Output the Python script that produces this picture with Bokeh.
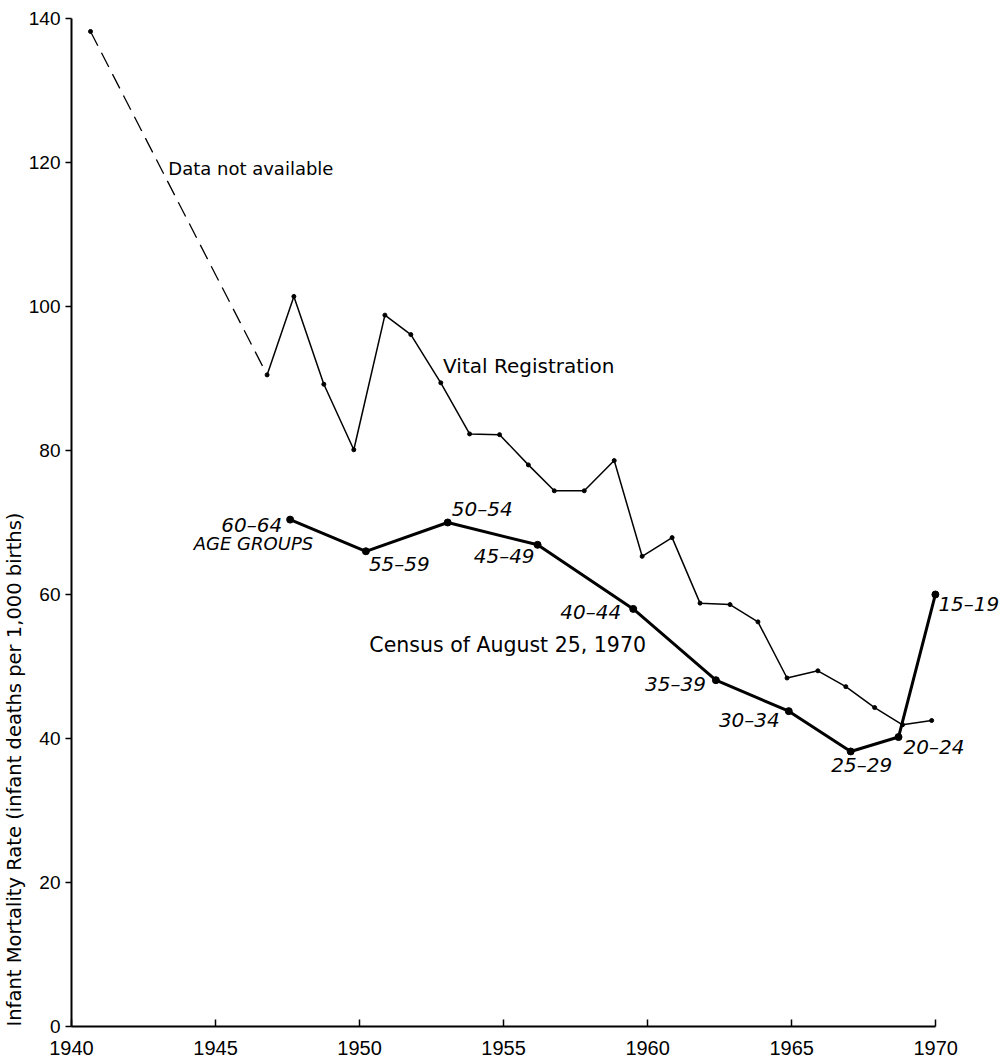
import math
from bokeh.plotting import figure
from bokeh.models import Range1d, FixedTicker, Label, ColumnDataSource, Title
from bokeh.embed import file_html
from bokeh.resources import INLINE
from bokeh.core.properties import value

# ---- data ----
vital_years = [1940.66, 1946.79, 1947.72, 1948.76, 1949.80, 1950.88, 1951.78, 1952.82,
               1953.82, 1954.86, 1955.86, 1956.76, 1957.80, 1958.84, 1959.81, 1960.85,
               1961.82, 1962.86, 1963.83, 1964.84, 1965.91, 1966.88, 1967.88, 1968.85,
               1969.86]
vital_rates = [138.2, 90.5, 101.4, 89.2, 80.1, 98.8, 96.1, 89.4,
               82.3, 82.2, 78.0, 74.4, 74.4, 78.6, 65.3, 67.9,
               58.8, 58.6, 56.2, 48.4, 49.4, 47.2, 44.3, 41.9,
               42.5]

census_years = [1947.59, 1950.22, 1953.06, 1956.18, 1959.50, 1962.37, 1964.90,
                1967.05, 1968.71, 1969.99]
census_rates = [70.4, 66.0, 70.0, 66.9, 58.0, 48.1, 43.8, 38.2, 40.2, 60.0]
age_groups = ["60–64", "55–59", "50–54", "45–49", "40–44", "35–39", "30–34",
              "25–29", "20–24", "15–19"]

x_ticks = [1940, 1945, 1950, 1955, 1960, 1965, 1970]
y_ticks = [0, 20, 40, 60, 80, 100, 120, 140]

# ---- label placement (styles/positions, kept apart from data) ----
label_align = ["right", "left", "left", "right", "right", "right", "right",
               "center", "left", "left"]
label_dx = [-8, 3, 4, -3, -12, -10, -9, 11, 5, 3]
label_dy = [5, 13, -13, 11, 3, 4, 9, 14, 10, 10]

p = figure(width=1000, height=1064, output_backend="svg", toolbar_location=None,
           x_range=Range1d(1940, 1972.25), y_range=Range1d(0, 142.22),
           min_border_left=70, min_border_right=0, min_border_top=2,
           min_border_bottom=38)
p.outline_line_color = None
p.grid.visible = False
p.background_fill_color = "white"

# axes
p.xaxis.bounds = (1940, 1970)
p.yaxis.bounds = (0, 140)
p.xaxis.ticker = FixedTicker(ticks=x_ticks)
p.yaxis.ticker = FixedTicker(ticks=y_ticks)
for ax in (p.xaxis, p.yaxis):
    ax.axis_line_width = 2
    ax.axis_line_color = "black"
    ax.major_tick_line_color = "black"
    ax.major_tick_line_width = 1.5
    ax.minor_tick_line_color = None
    ax.major_label_text_color = "black"
    ax.major_label_text_font = "Liberation Sans"
p.xaxis.major_tick_in = 7
p.xaxis.major_tick_out = 0
p.xaxis.major_label_standoff = 14
p.xaxis.major_label_text_font_size = "20px"
p.yaxis.major_tick_in = 0
p.yaxis.major_tick_out = 6
p.yaxis.major_label_standoff = 5
p.yaxis.major_label_text_font_size = "19px"

# y-axis title, set at the lower end of the left side as in the reference
p.add_layout(Title(text="Infant Mortality Rate (infant deaths per 1,000 births)",
                   align="left", offset=0, standoff=0,
                   text_font="DejaVu Sans", text_font_size="19.5px",
                   text_font_style="normal", text_color="black"), "left")

# vital registration: dashed gap then solid line
p.line(vital_years[:2], vital_rates[:2], line_color="black", line_width=1.3,
       line_dash="16 8")
p.line(vital_years[1:], vital_rates[1:], line_color="black", line_width=1.5)
p.scatter(vital_years, vital_rates, size=4, color="black")

# census
src = ColumnDataSource(dict(x=census_years, y=census_rates, t=age_groups,
                            align=label_align, dx=label_dx, dy=label_dy))
p.line("x", "y", source=src, line_color="black", line_width=3)
p.scatter("x", "y", source=src, size=7, color="black")
p.text("x", "y", text="t", source=src, text_align="align", x_offset="dx",
       y_offset="dy", text_baseline="middle", text_font=value("DejaVu Sans"),
       text_font_style="italic", text_font_size="20px", text_color="black")

# annotations
def add_label(x, y, txt, size, style="normal", align="left"):
    p.add_layout(Label(x=x, y=y, text=txt, text_font="DejaVu Sans",
                       text_font_size=size, text_font_style=style,
                       text_align=align, text_baseline="middle",
                       text_color="black"))

add_label(1943.36, 119.2, "Data not available", "18px")
add_label(1952.90, 91.8, "Vital Registration", "20px")
add_label(1950.34, 53.05, "Census of August 25, 1970", "20.5px")
add_label(1948.39, 67.1, "AGE GROUPS", "18px", style="italic", align="right")

open("out.html", "w").write(file_html(p, INLINE))
